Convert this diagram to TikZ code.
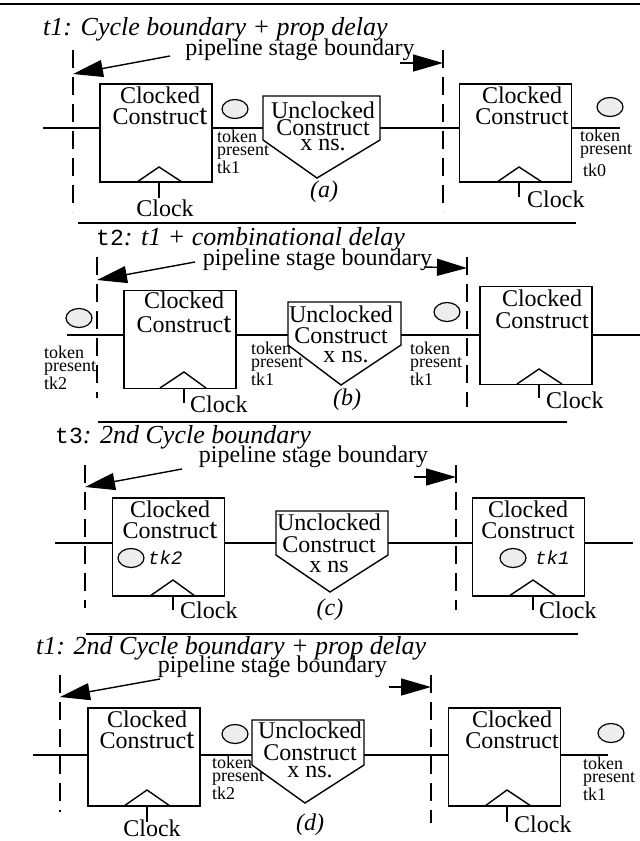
\documentclass[tikz,border=0pt]{standalone}
\usepackage{fontspec}
\setmainfont{Liberation Serif}
\newfontfamily\tkfont{Liberation Mono}
\usepackage{tikz}
\usetikzlibrary{arrows.meta,shapes.geometric}

\newcommand{\tallt}{{\fontsize{29}{21}\selectfont t}}

\tikzset{
  clk/.style={draw, line width=1.4pt, inner sep=0pt, minimum width=112pt, minimum height=98pt},
  wire/.style={line width=1.4pt},
  bnd/.style={line width=1.4pt, dash pattern=on 18pt off 9pt},
  tok/.style={draw, ellipse, line width=1.2pt, fill=black!7, inner sep=0pt, minimum width=26pt, minimum height=19pt},
  txt/.style={font=\fontsize{24}{21}\selectfont, inner sep=0pt, align=center, anchor=base},
  lab/.style={font=\fontsize{24}{24}\selectfont\itshape, inner sep=0pt, anchor=base},
  tiny/.style={font=\fontsize{18}{13}\selectfont, inner sep=0pt, align=left, anchor=base west},
  tk/.style={font=\fontsize{19}{19}\selectfont\tkfont\itshape, inner sep=0pt, anchor=west},
  ttl/.style={font=\fontsize{26}{26}\selectfont\itshape, inner sep=0pt, anchor=base west},
  arr/.style={line width=1.4pt, -{Triangle[length=30pt,width=17pt]}},
  sep/.style={line width=1.5pt}
}

\begin{document}
\begin{tikzpicture}[x=1pt,y=1pt,yscale=-1]
\useasboundingbox (0,0) rectangle (640,841);
\draw[line width=2.5pt] (0,4) -- (640,4);

% (a)
\node[ttl] (ta) at (43,35) {t1: Cycle boundary + prop delay};
\node[txt] (pa) at (300,55) {pipeline stage boundary};
\draw[bnd] (73,50) -- (73,212);
\draw[bnd] (443,50) -- (443,212);
\draw[arr] (170,56) -- (73,74);
\draw[arr] (400,63) -- (443,63);
\node[clk] (a1) at (156,133) {};
\node[txt] (a1t) at (160,124) {Clocked\\Construc\tallt};
\draw[wire] (137,182) -- (159,167) -- (182,182);
\draw[wire] (159,182) -- (159,198);
\node[txt] (a1c) at (165,216) {Clock};
\node[tok] (a1k) at (235,109) {};
\node[tiny] (a1s) at (217,173) {token\\present\\tk1};
\draw[wire] (263,96) -- (380,96) -- (380,140) -- (317,178) -- (263,140) -- cycle;
\node[txt] (aut) at (323,150) {Unclocked\\[-4pt]Construct\\[-6pt]x ns.};
\node[lab] (al) at (324,197) {(a)};
\node[clk] (a2) at (515.5,133) {};
\node[txt] (a2t) at (522,124) {Clocked\\Construct};
\draw[wire] (497,182) -- (519,167) -- (542,182);
\draw[wire] (519,182) -- (519,197);
\node[txt, anchor=base west] (a2c) at (527,207) {Clock};
\node[tok] (a2k) at (610,107) {};
\node[tiny] (a2s) at (580,176) {token\\present\\[4pt]\hspace{3pt}tk0};
\coordinate (aw0) at (43,128);
\coordinate (aw9) at (620,128);
\draw[wire] (aw0) -- (aw0 -| a1.west);
\draw[wire] (a1.east |- aw0) -- (263,128);
\draw[wire] (380,128) -- (a2.west |- aw0);
\draw[wire] (a2.east |- aw0) -- (aw9);
\draw[sep] (78,223) -- (576,223);

% (b)
\node[ttl] (tb) at (96,245) {{\upshape\tkfont\fontsize{23}{23}\selectfont t2}: t1 + combinational delay};
\node[txt] (pb) at (317.5,265) {pipeline stage boundary};
\draw[bnd] (97,257) -- (97,398);
\draw[bnd] (467,257) -- (467,407);
\draw[arr] (195,262) -- (97,280);
\draw[arr] (424,267) -- (467,268);
\node[clk] (b1) at (180,339.5) {};
\node[txt] (b1t) at (184,332) {Clocked\\[3pt]Construc\tallt};
\draw[wire] (160,388) -- (184,372) -- (206,388);
\draw[wire] (184,388) -- (184,403);
\node[txt, anchor=base west] (b1c) at (190,412) {Clock};
\node[tok] (b0k) at (79,318) {};
\node[tiny] (b0s) at (44,389) {token\\present\\tk2};
\draw[wire] (288,302) -- (401,302) -- (401,345) -- (341,385) -- (288,345) -- cycle;
\node[txt] (but) at (341,362) {Unclocked\\Construct\\[-2pt]\hspace{10pt}x ns.};
\node[tiny] (b1s) at (251,385) {token\\present\\tk1};
\node[lab] (bl) at (347,405) {(b)};
\node[tok] (b2k) at (447,312) {};
\node[tiny] (b2s) at (410,385) {token\\present\\tk1};
\node[clk] (b2) at (536,335.5) {};
\node[txt] (b2t) at (542,328) {Clocked\\[1pt]Construct};
\draw[wire] (517,384) -- (539,369) -- (562,384);
\draw[wire] (539,384) -- (539,398);
\node[txt, anchor=base west] (b2c) at (546,408) {Clock};
\coordinate (bw0) at (67,335);
\coordinate (bw9) at (640,335);
\draw[wire] (bw0) -- (bw0 -| b1.west);
\draw[wire] (b1.east |- bw0) -- (288,335);
\draw[wire] (401,335) -- (b2.west |- bw0);
\draw[wire] (b2.east |- bw0) -- (bw9);
\draw[sep] (98,422) -- (567,422);

% (c)
\node[ttl] (tc) at (55,443) {{\upshape\tkfont\fontsize{23}{23}\selectfont t3}: 2nd Cycle boundary};
\node[txt] (pc) at (313.5,462) {pipeline stage boundary};
\draw[bnd] (85,465) -- (85,608);
\draw[bnd] (456,465) -- (456,610);
\draw[arr] (182,469) -- (85,487);
\draw[arr] (414,477) -- (456,477);
\node[clk] (c1) at (168.5,547) {};
\node[txt] (c1t) at (170,538) {Clocked\\Construc\tallt};
\node[tok] (c1k) at (131,558) {};
\node[tk] (c1s) at (148,558) {tk2};
\draw[wire] (150,596) -- (173,580) -- (195,596);
\draw[wire] (173,596) -- (173,610);
\node[txt, anchor=base west] (c1c) at (180,618) {Clock};
\draw[wire] (276,511) -- (388,511) -- (388,555) -- (330,592) -- (276,555) -- cycle;
\node[txt] (cut) at (329,572) {Unclocked\\[1pt]Construct\\[-1pt]x ns};
\node[lab] (cl) at (330,615) {(c)};
\node[clk] (c2) at (528.5,547) {};
\node[txt] (c2t) at (528,538) {Clocked\\Construct};
\node[tok] (c2k) at (513,558) {};
\node[tk] (c2s) at (535,558) {tk1};
\draw[wire] (509,596) -- (533,580) -- (556,596);
\draw[wire] (533,596) -- (533,610);
\node[txt, anchor=base west] (c2c) at (539,618) {Clock};
\coordinate (cw0) at (55,543);
\coordinate (cw9) at (633,543);
\draw[wire] (cw0) -- (cw0 -| c1.west);
\draw[wire] (c1.east |- cw0) -- (276,543);
\draw[wire] (388,543) -- (c2.west |- cw0);
\draw[wire] (c2.east |- cw0) -- (cw9);
\draw[sep] (86,634) -- (578,634);

% (d)
\node[ttl] (td) at (36,654) {t1: 2nd Cycle boundary + prop delay};
\node[txt] (pd) at (272.5,672) {pipeline stage boundary};
\draw[bnd] (60,675) -- (60,812);
\draw[bnd] (431,675) -- (431,823);
\draw[arr] (160,679) -- (60,697);
\draw[arr] (389,687) -- (431,687);
\node[clk] (d1) at (144,757) {};
\node[txt] (d1t) at (147,748) {Clocked\\Construc\tallt};
\draw[wire] (124,806) -- (147,790) -- (170,806);
\draw[wire] (147,806) -- (147,822);
\node[txt] (d1c) at (152,836) {Clock};
\node[tok] (d1k) at (235,734) {};
\node[tiny] (d1s) at (212,799) {token\\present\\tk2};
\draw[wire] (252,720) -- (364,720) -- (364,765) -- (305,803) -- (252,765) -- cycle;
\node[txt] (dut) at (310,777) {Unclocked\\[1pt]Construct\\[-4pt]x ns.};
\node[lab] (dl) at (310,830) {(d)};
\node[clk] (d2) at (504.5,757) {};
\node[txt] (d2t) at (512,748) {Clocked\\Construct};
\draw[wire] (485,806) -- (507,790) -- (531,806);
\draw[wire] (507,806) -- (507,822);
\node[txt, anchor=base west] (d2c) at (514,832) {Clock};
\node[tok] (d2k) at (611,733) {};
\node[tiny] (d2s) at (583,800) {token\\present\\tk1};
\coordinate (dw0) at (33,755);
\coordinate (dw9) at (608,755);
\draw[wire] (dw0) -- (dw0 -| d1.west);
\draw[wire] (d1.east |- dw0) -- (252,755);
\draw[wire] (364,755) -- (d2.west |- dw0);
\draw[wire] (d2.east |- dw0) -- (dw9);
\end{tikzpicture}
\end{document}
